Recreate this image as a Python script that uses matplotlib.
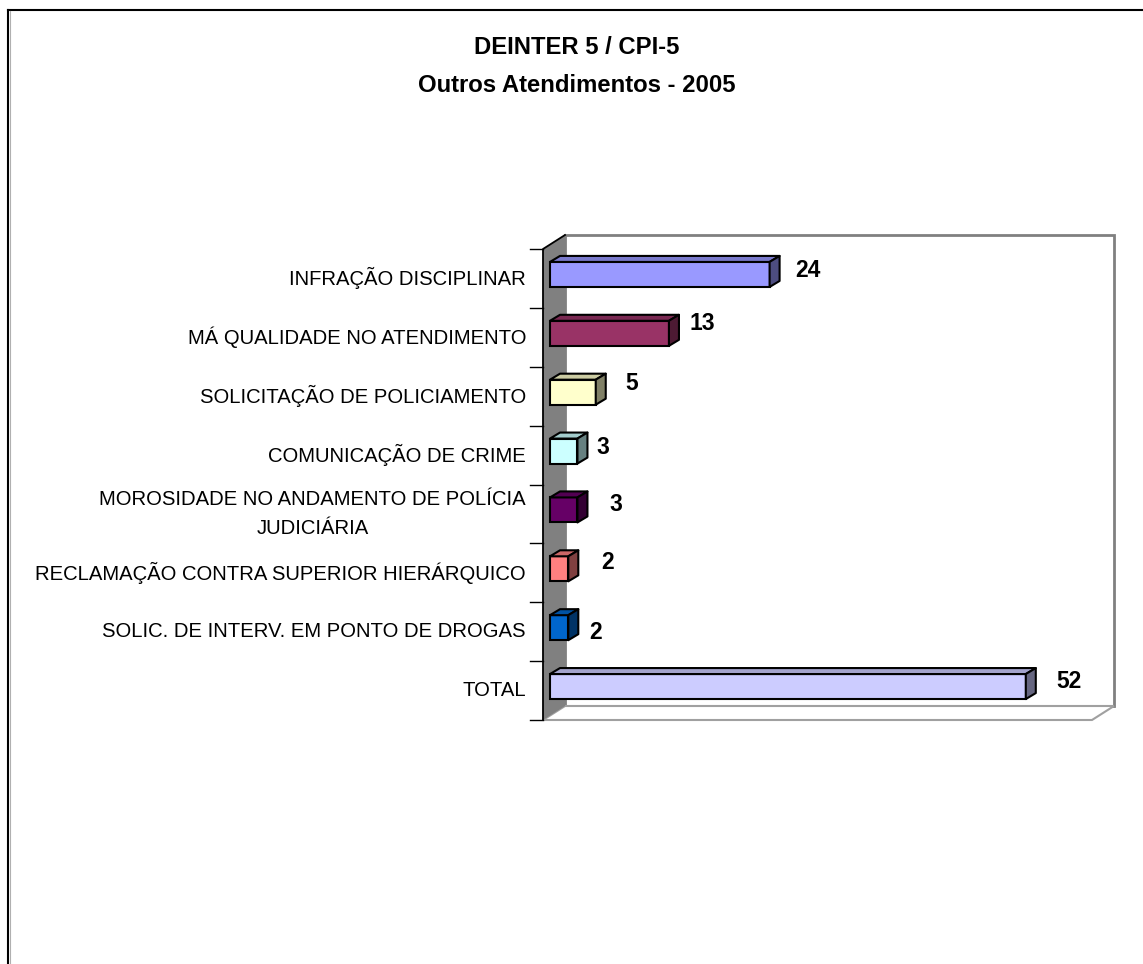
"""DEINTER 5 / CPI-5 — Outros Atendimentos 2005: barras horizontais estilo 3D (Excel)."""

import matplotlib
matplotlib.use("Agg")
import matplotlib.pyplot as plt
from matplotlib.colors import to_rgb
from matplotlib.lines import Line2D
from matplotlib.patches import Polygon
import numpy as np

plt.rcParams["font.family"] = ["Liberation Sans", "DejaVu Sans"]

# --- dados ---
categorias = [
    "INFRAÇÃO DISCIPLINAR",
    "MÁ QUALIDADE NO ATENDIMENTO",
    "SOLICITAÇÃO DE POLICIAMENTO",
    "COMUNICAÇÃO DE CRIME",
    "MOROSIDADE NO ANDAMENTO DE POLÍCIA\nJUDICIÁRIA",
    "RECLAMAÇÃO CONTRA SUPERIOR HIERÁRQUICO",
    "SOLIC. DE INTERV. EM PONTO DE DROGAS",
    "TOTAL",
]
valores = [24, 13, 5, 3, 3, 2, 2, 52]

# --- estilo ---
cores = ["#9999FF", "#993366", "#FFFFCC", "#CCFFFF",
         "#660066", "#FF8080", "#0066CC", "#CCCCFF"]
# deslocamento do rótulo de valor (px: direita, cima) a partir do fim da barra
rotulo_nudge = [(33, 8), (28, 14), (37, 13), (26, 8),
                (39, 9), (40, 10), (28, -1), (38, 9)]

W, H = 1143, 964
X0, X1, YT, YB = 543, 1092, 249, 720      # plano frontal (px)
XMAX = 60
WALL = (22, 14)       # profundidade das paredes (px, direita/cima)
SHIFT = (7, 4)        # face frontal das barras recuada
DEPTH = (10, 6)       # espessura 3D das barras
BAR_H = 0.425

fig = plt.figure(figsize=(W / 100, H / 100), dpi=100)
ax = fig.add_axes([X0 / W, (H - YB) / H, (X1 - X0) / W, (YB - YT) / H])
n = len(categorias)
ax.set_xlim(0, XMAX)
ax.set_ylim(n - 0.5, -0.5)
ax.axis("off")

ppx = (X1 - X0) / XMAX
ppy = (YB - YT) / n


def d(dx, dy):
    """px (direita, cima) -> unidades de dados."""
    return dx / ppx, -dy / ppy


def shade(c, f):
    return tuple(np.clip(np.array(to_rgb(c)) * f, 0, 1))


# --- paredes / piso ---
wx, wy = d(*WALL)
ytop, ybot = -0.5, n - 0.5
ax.add_patch(Polygon([(wx, ytop + wy), (XMAX + wx, ytop + wy),
                      (XMAX + wx, ybot + wy), (wx, ybot + wy)],
                     closed=True, fc="white", ec="#808080", lw=2, zorder=0,
                     clip_on=False))
ax.add_patch(Polygon([(0, ybot), (XMAX, ybot), (XMAX + wx, ybot + wy),
                      (wx, ybot + wy)],
                     closed=True, fc="white", ec="#a0a0a0", lw=1.5, zorder=0.5,
                     clip_on=False))
ax.add_patch(Polygon([(0, ytop), (0, ybot), (wx, ybot + wy), (wx, ytop + wy)],
                     closed=True, fc="#808080", ec="none", zorder=1,
                     clip_on=False))
ax.plot([0, 0, wx], [ybot, ytop, ytop + wy], color="black", lw=1.3,
        zorder=1.5, clip_on=False)

# marcas do eixo de categorias
tx, _ = d(-13, 0)
for b in np.arange(-0.5, n, 1.0):
    ax.plot([tx, 0], [b, b], color="black", lw=1, clip_on=False)

# --- barras 3D ---
sx, sy = d(*SHIFT)
ddx, ddy = d(*DEPTH)
idx = np.arange(n)
ax.barh(idx + sy, valores, height=BAR_H, left=sx, color=cores,
        edgecolor="black", linewidth=1.5, zorder=3, clip_on=False)
for i, (v, c) in enumerate(zip(valores, cores)):
    y0 = i + sy - BAR_H / 2
    y1 = i + sy + BAR_H / 2
    xe = sx + v
    top = [(sx, y0), (xe, y0), (xe + ddx, y0 + ddy), (sx + ddx, y0 + ddy)]
    side = [(xe, y0), (xe, y1), (xe + ddx, y1 + ddy), (xe + ddx, y0 + ddy)]
    ax.add_patch(Polygon(top, closed=True, fc=shade(c, 0.8), ec="black",
                         lw=1.5, zorder=3, clip_on=False, joinstyle="round"))
    ax.add_patch(Polygon(side, closed=True, fc=shade(c, 0.5), ec="black",
                         lw=1.5, zorder=3, clip_on=False, joinstyle="round"))

# rótulos de valor
for i, v in enumerate(valores):
    nx, ny = d(*rotulo_nudge[i])
    ax.text(v + nx, i + ny, str(v), ha="left", va="center",
            fontsize=16.5, fontweight="bold", clip_on=False)

# rótulos de categoria
lx, _ = d(-17, 0)
for i, lab in enumerate(categorias):
    ax.text(lx, i, lab, ha="right", va="center", multialignment="center",
            fontsize=14.6, linespacing=1.7, clip_on=False)

# --- título ---
fig.text(577 / W, 1 - 47 / H, "DEINTER 5 / CPI-5", ha="center", va="center",
         fontsize=17.2, fontweight="bold")
fig.text(577 / W, 1 - 85 / H, "Outros Atendimentos - 2005", ha="center",
         va="center", fontsize=17.2, fontweight="bold")

# moldura externa (cortada à direita e embaixo)
fig.add_artist(Line2D([8 / W, 1], [1 - 10 / H, 1 - 10 / H], color="black",
                      lw=1.5))
fig.add_artist(Line2D([8 / W, 8 / W], [0, 1 - 10 / H], color="black", lw=1.5))
fig.add_artist(Line2D([9.6 / W, 9.6 / W], [0, 1 - 11 / H], color="#b0b0b0",
                      lw=0.8))

fig.savefig("out.png", dpi=100, facecolor="white")
